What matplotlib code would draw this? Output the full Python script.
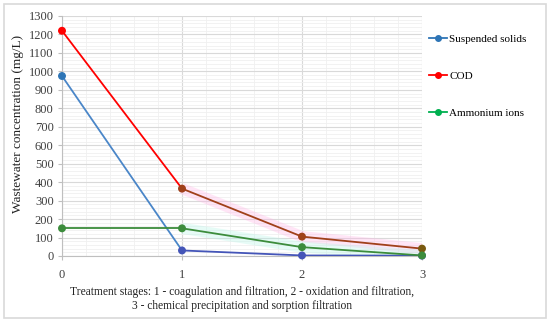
import numpy as np
import matplotlib.pyplot as plt
from matplotlib.patches import Rectangle
from matplotlib.lines import Line2D
from matplotlib.ticker import MultipleLocator

plt.rcParams['font.family'] = ['Liberation Serif', 'DejaVu Serif']

stages = [0, 1, 2, 3]
suspended = [975, 30, 3, 2]
cod = [1220, 365, 105, 40]
ammonium = [150, 150, 48, 3]
labels = ['Suspended solids', 'COD', 'Ammonium ions']
legend_colors = ['#2E75B6', '#FF0000', '#00B050']

# per-segment colours (line changes tone after stage 1)
seg_colors = [
    ['#4A86C8', '#4455B8', '#4455B8'],
    ['#FF0000', '#A0401A', '#A0401A'],
    ['#3C8C3C', '#3C8C3C', '#3C8C3C'],
]
marker_colors = [
    ['#2E75B6', '#4455B8', '#4455B8', '#4455B8'],
    ['#FF0000', '#A0401A', '#A0401A', '#7A5A10'],
    ['#3C8C3C', '#3C8C3C', '#3C8C3C', '#3C8C3C'],
]
glow = [None, '#FFB6E6', '#B8F5E8']

fig = plt.figure(figsize=(5.5, 3.22), dpi=100)
fig.patches.append(Rectangle((0.008, 0.012), 0.984, 0.975, transform=fig.transFigure,
                             fill=False, edgecolor='#d9d9d9', linewidth=1.2))
ax = fig.add_axes([62 / 550, 1 - 256 / 322, 360 / 550, 240 / 322])

ax.set_xlim(0, 3)
ax.set_ylim(0, 1300)
ax.xaxis.set_major_locator(MultipleLocator(1))
ax.xaxis.set_minor_locator(MultipleLocator(0.2))
ax.yaxis.set_major_locator(MultipleLocator(100))
ax.yaxis.set_minor_locator(MultipleLocator(20))
ax.grid(which='major', color='#d9d9d9', linewidth=0.8)
ax.grid(which='minor', color='#f0f0f0', linewidth=0.6)
ax.set_axisbelow(True)
for s in ['top', 'right']:
    ax.spines[s].set_visible(False)
for s in ['left', 'bottom']:
    ax.spines[s].set_color('#bfbfbf')
ax.tick_params(which='minor', length=0)
ax.tick_params(which='major', length=3, color='#bfbfbf', labelsize=9, labelcolor='#404040')
ax.tick_params(axis='x', pad=6)
ax.tick_params(axis='y', pad=3)

series = [suspended, cod, ammonium]
for i, ys in enumerate(series):
    for j in range(len(stages) - 1):
        if glow[i] is not None and j >= 1:
            ax.plot(stages[j:j + 2], ys[j:j + 2], color=glow[i], linewidth=8,
                    alpha=0.35, solid_capstyle='butt', zorder=2)
        ax.plot(stages[j:j + 2], ys[j:j + 2], color=seg_colors[i][j], linewidth=1.3, zorder=3)
    ax.scatter(stages, ys, color=marker_colors[i], s=22, zorder=4, clip_on=False)

fig.text(18 / 550, 1 - 124 / 322, 'Wastewater concentration (mg/L)', rotation=90,
         ha='center', va='center', fontsize=9.5, color='#222222')
ax.set_xlabel('Treatment stages: 1 - coagulation and filtration, 2 - oxidation and filtration,\n'
              '3 - chemical precipitation and sorption filtration', fontsize=8.3, color='#222222',
              linespacing=1.25)
ax.xaxis.set_label_coords(0.5, -0.123)

handles = [Line2D([0], [0], color=c, marker='o', markersize=4, linewidth=1.3) for c in legend_colors]
fig.legend(handles, labels, loc='upper left', bbox_to_anchor=(419 / 550, 1 - 24 / 322),
           frameon=False, fontsize=8, handlelength=1.6, handletextpad=0.2, labelspacing=2.45)

fig.savefig('out.png', dpi=100)
